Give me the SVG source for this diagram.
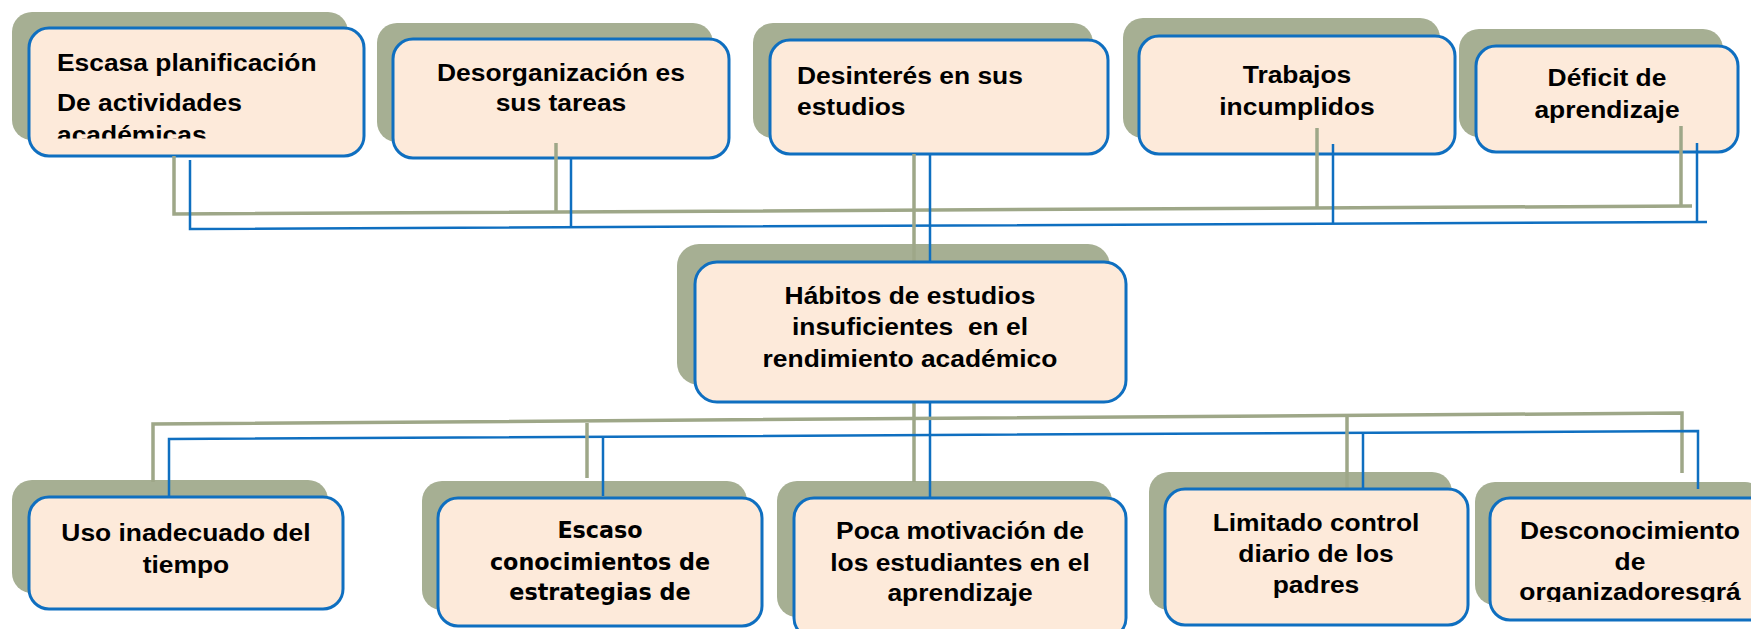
<svg xmlns="http://www.w3.org/2000/svg" width="1751" height="629" viewBox="0 0 1751 629">
<style>
.sh{fill:#A6AF93}
.bx{fill:#FDEADA;stroke:#0F6FC0;stroke-width:3}
.t{font-family:"Liberation Sans",Arial,sans-serif;font-weight:bold;font-size:24px;fill:#000}
.t2{font-family:"DejaVu Sans Condensed","DejaVu Sans",sans-serif;font-stretch:condensed;font-weight:bold;font-size:22.5px;fill:#000}
.c{text-anchor:middle}
.g{stroke:#9EA788;stroke-width:3.5;fill:none}
.b{stroke:#0F6FC0;stroke-width:2.5;fill:none}
</style>
<defs>
<clipPath id="clip1"><rect x="0" y="0" width="400" height="138.5"/></clipPath>
<clipPath id="clip2"><rect x="1400" y="400" width="351" height="202"/></clipPath>
</defs>
<rect width="1751" height="629" fill="#fff"/>

<g id="n1">
<rect class="sh" x="12" y="12" width="336" height="128" rx="20"/>
<rect class="bx" x="29" y="28" width="335" height="128" rx="20"/>
<g clip-path="url(#clip1)">
<text class="t" transform="matrix(1.1 0 0 1 -5.7 0)"><tspan x="57" y="71">Escasa planificación</tspan><tspan x="57" y="111">De actividades</tspan><tspan x="57" y="143">académicas</tspan></text>
</g>
</g>

<g id="n2">
<rect class="sh" x="377" y="23" width="336" height="119" rx="20"/>
<rect class="bx" x="393" y="39" width="336" height="119" rx="20"/>
<text class="t c" transform="matrix(1.1 0 0 1 -56.1 0)"><tspan x="561" y="81">Desorganización es</tspan><tspan x="561" y="111">sus tareas</tspan></text>
</g>

<g id="n3">
<rect class="sh" x="753" y="23" width="340" height="115" rx="20"/>
<rect class="bx" x="770" y="40" width="338" height="114" rx="20"/>
<text class="t" transform="matrix(1.1 0 0 1 -79.7 0)"><tspan x="797" y="84">Desinterés en sus</tspan><tspan x="797" y="115">estudios</tspan></text>
</g>

<g id="n4">
<rect class="sh" x="1123" y="18" width="317" height="120" rx="20"/>
<rect class="bx" x="1139" y="36" width="316" height="118" rx="20"/>
<text class="t c" transform="matrix(1.1 0 0 1 -129.7 0)"><tspan x="1297" y="83">Trabajos</tspan><tspan x="1297" y="115">incumplidos</tspan></text>
</g>

<g id="n5">
<rect class="sh" x="1459" y="29" width="264" height="108" rx="20"/>
<rect class="bx" x="1476" y="46" width="262" height="106" rx="20"/>
<text class="t c" transform="matrix(1.1 0 0 1 -160.7 0)"><tspan x="1607" y="86">Déficit de</tspan><tspan x="1607" y="118">aprendizaje</tspan></text>
</g>

<g id="center">
<rect class="sh" x="677" y="244" width="433" height="141" rx="22"/>
</g>
<g id="n7s"><rect class="sh" x="12" y="480" width="316" height="113" rx="20"/></g>
<g id="n8s"><rect class="sh" x="422" y="481" width="325" height="129" rx="20"/></g>
<g id="n9s"><rect class="sh" x="777" y="481" width="335" height="136" rx="20"/></g>
<g id="n10s"><rect class="sh" x="1149" y="472" width="303" height="138" rx="20"/></g>
<g id="n11s"><rect class="sh" x="1475" y="482" width="290" height="123" rx="20"/></g>

<g id="connectors">
<polyline class="g" points="174,156 174,214 1692,206"/>
<polyline class="b" points="190,160 190,229 1707,222"/>
<line class="g" x1="556" y1="143" x2="556" y2="213"/>
<line class="b" x1="571" y1="158" x2="571" y2="228"/>
<line class="g" x1="1317" y1="128" x2="1317" y2="208"/>
<line class="b" x1="1333" y1="144" x2="1333" y2="223"/>
<line class="g" x1="1681" y1="126" x2="1681" y2="206"/>
<line class="b" x1="1697" y1="143" x2="1697" y2="223"/>
<line class="g" x1="914" y1="154" x2="914" y2="482"/>
<line class="b" x1="930" y1="154" x2="930" y2="498"/>
<polyline class="g" points="153,482 153,424 1682,413 1682,473"/>
<polyline class="b" points="169,497 169,439 1698,431 1698,489"/>
<line class="g" x1="587" y1="423" x2="587" y2="478"/>
<line class="b" x1="603" y1="437" x2="603" y2="496"/>
<line class="g" x1="1347" y1="414" x2="1347" y2="488"/>
<line class="b" x1="1363" y1="432" x2="1363" y2="488"/>
</g>

<g id="n6">
<rect class="bx" x="695" y="262" width="431" height="140" rx="22"/>
<text class="t c" xml:space="preserve" transform="matrix(1.1 0 0 1 -91 0)"><tspan x="910" y="304">Hábitos de estudios</tspan><tspan x="910" y="335">insuficientes  en el</tspan><tspan x="910" y="367">rendimiento académico</tspan></text>
</g>

<g id="n7">
<rect class="bx" x="29" y="497" width="314" height="112" rx="20"/>
<text class="t c" transform="matrix(1.1 0 0 1 -18.6 0)"><tspan x="186" y="541">Uso inadecuado del</tspan><tspan x="186" y="573">tiempo</tspan></text>
</g>

<g id="n8">
<rect class="bx" x="438" y="498" width="324" height="128" rx="20"/>
<text class="t2 c" transform="matrix(1.1 0 0 1 -60 0)"><tspan x="600" y="538">Escaso</tspan><tspan x="600" y="570">conocimientos de</tspan><tspan x="600" y="600">estrategias de</tspan></text>
</g>

<g id="n9">
<rect class="bx" x="794" y="498" width="332" height="140" rx="20"/>
<text class="t c" transform="matrix(1.1 0 0 1 -96 0)"><tspan x="960" y="539">Poca motivación de</tspan><tspan x="960" y="571">los estudiantes en el</tspan><tspan x="960" y="601">aprendizaje</tspan></text>
</g>

<g id="n10">
<rect class="bx" x="1165" y="489" width="303" height="136" rx="20"/>
<text class="t c" transform="matrix(1.1 0 0 1 -131.6 0)"><tspan x="1316" y="531">Limitado control</tspan><tspan x="1316" y="562">diario de los</tspan><tspan x="1316" y="593">padres</tspan></text>
</g>

<g id="n11">
<rect class="bx" x="1490" y="498" width="280" height="122" rx="20"/>
<g clip-path="url(#clip2)">
<text class="t c" transform="matrix(1.1 0 0 1 -163 0)"><tspan x="1630" y="539">Desconocimiento</tspan><tspan x="1630" y="570">de</tspan><tspan x="1630" y="600">organizadoresgrá</tspan></text>
</g>
</g>
</svg>
